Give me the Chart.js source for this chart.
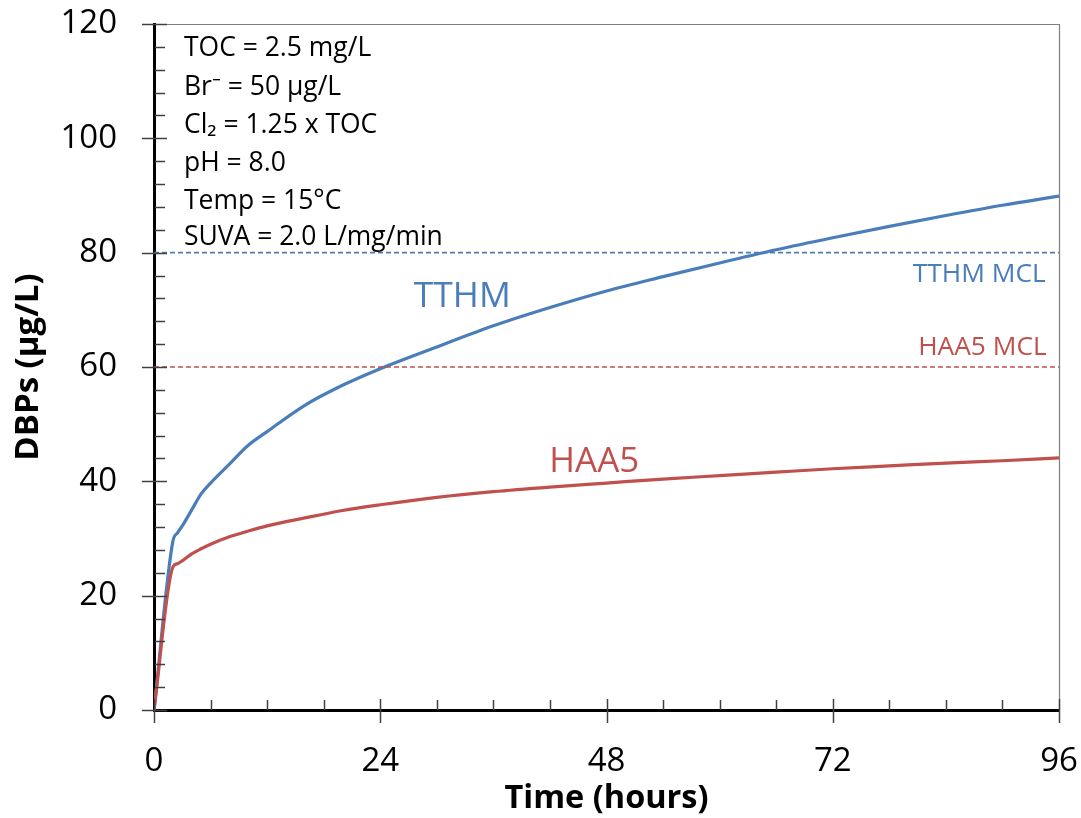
<!DOCTYPE html>
<html><head><meta charset="utf-8">
<script src="https://cdn.jsdelivr.net/npm/chart.js@4.4.1/dist/chart.umd.min.js"></script>
<style>html,body{margin:0;padding:0;background:#fff}#wrap{width:1081px;height:818px}</style>
</head><body><div id="wrap"><canvas id="c" width="1081" height="818"></canvas></div>
<script>
const timeHours = [0,2,2.5,3,4,5,6,8,10,12,16,20,24,30,36,42,48,54,60,66,72,78,84,90,96];
const tthmValues = [0,29.5,31,32.2,35,37.8,39.7,43,46.3,48.7,53.3,56.8,59.7,63.5,67.2,70.4,73.3,75.8,78.2,80.5,82.6,84.6,86.5,88.3,89.9];
const haa5Values = [0,25,25.6,26.1,27.3,28.2,29,30.3,31.3,32.2,33.6,34.9,35.9,37.2,38.2,39,39.7,40.4,41,41.6,42.2,42.7,43.2,43.6,44.1];
const mclTimes = [0,96];
const tthmMcl = [80,80];
const haa5Mcl = [60,60];
const xTicks = [0,24,48,72,96];
const yTicks = [0,20,40,60,80,100,120];
const infoLines = ["TOC = 2.5 mg/L","Br\u207B = 50 \u00B5g/L","Cl\u2082 = 1.25 x TOC","pH = 8.0","Temp = 15\u00B0C","SUVA = 2.0 L/mg/min"];

const BLUE = '#4a7ebb', RED = '#c0504d';
const FONT = "'Open Sans', 'Noto Sans', sans-serif";
const pts = (xs, ys) => xs.map((x,i)=>({x, y: ys[i]}));

const tickPlugin = {
  id: 'ticks',
  afterDraw(chart) {
    const ctx = chart.ctx, xs = chart.scales.x, ys = chart.scales.y, a = chart.chartArea;
    ctx.save();
    ctx.strokeStyle = '#7f7f7f'; ctx.lineWidth = 1.2;
    ctx.beginPath(); ctx.moveTo(a.left, a.top+0.5); ctx.lineTo(a.right+0.5, a.top+0.5); ctx.lineTo(a.right+0.5, a.bottom); ctx.stroke();
    ctx.strokeStyle = '#404040'; ctx.lineWidth = 1.5;
    for (let v = 0; v <= 120; v += 4) {
      const y = Math.round(ys.getPixelForValue(v)) + 0.5;
      ctx.beginPath();
      if (v % 20 === 0) { ctx.moveTo(a.left-12, y); ctx.lineTo(a.left+13, y); }
      else { ctx.moveTo(a.left+1, y); ctx.lineTo(a.left+11, y); }
      ctx.stroke();
    }
    for (let t = 0; t <= 96; t += 6) {
      const x = Math.round(xs.getPixelForValue(t)) + 0.5;
      ctx.beginPath();
      if (t % 24 === 0) { ctx.moveTo(x, a.bottom-11); ctx.lineTo(x, a.bottom+13); }
      else { ctx.moveTo(x, a.bottom-10); ctx.lineTo(x, a.bottom); }
      ctx.stroke();
    }
    ctx.restore();
  }
};

function fitSize(ctx, text, width, weight) {
  ctx.font = weight + ' 100px ' + FONT;
  return 100 * width / ctx.measureText(text).width;
}

const labelPlugin = {
  id: 'labels',
  afterDatasetsDraw(chart) {
    const ctx = chart.ctx, xs = chart.scales.x, ys = chart.scales.y;
    ctx.save();
    ctx.textBaseline = 'middle';
    const s = fitSize(ctx, infoLines[5], 259, '400');
    ctx.font = '400 ' + s + 'px ' + FONT;
    ctx.fillStyle = '#000'; ctx.textAlign = 'left';
    const infoY = [48,87,125,163,201,237];
    infoLines.forEach((t,i)=> ctx.fillText(t, 184, infoY[i]));
    let f = fitSize(ctx, 'TTHM', 97, '400');
    ctx.font = '400 ' + f + 'px ' + FONT; ctx.textAlign = 'center';
    ctx.fillStyle = BLUE; ctx.fillText('TTHM', xs.getPixelForValue(32.7), ys.getPixelForValue(72.2));
    f = fitSize(ctx, 'HAA5', 90, '400');
    ctx.font = '400 ' + f + 'px ' + FONT;
    ctx.fillStyle = RED; ctx.fillText('HAA5', xs.getPixelForValue(46.7), ys.getPixelForValue(43.3));
    f = fitSize(ctx, 'TTHM MCL', 133, '400');
    ctx.font = '400 ' + f + 'px ' + FONT; ctx.textAlign = 'right';
    ctx.fillStyle = BLUE; ctx.fillText('TTHM MCL', xs.getPixelForValue(94.6), ys.getPixelForValue(76.2));
    ctx.fillStyle = RED; ctx.fillText('HAA5 MCL', xs.getPixelForValue(94.7), ys.getPixelForValue(63.4));
    ctx.restore();
  }
};

new Chart(document.getElementById('c'), {
  type: 'line',
  data: { datasets: [
    { data: pts(mclTimes, tthmMcl), borderColor: BLUE, borderWidth: 1.6, borderDash: [5,3], pointRadius: 0, tension: 0 },
    { data: pts(mclTimes, haa5Mcl), borderColor: RED, borderWidth: 1.6, borderDash: [5,3], pointRadius: 0, tension: 0 },
    { data: pts(timeHours, haa5Values), borderColor: RED, borderWidth: 3.2, pointRadius: 0, cubicInterpolationMode: 'monotone' },
    { data: pts(timeHours, tthmValues), borderColor: BLUE, borderWidth: 3.2, pointRadius: 0, cubicInterpolationMode: 'monotone' }
  ]},
  options: {
    responsive: false, animation: false,
    layout: { padding: { top: 24, right: 22, left: 0, bottom: 0 } },
    plugins: { legend: { display: false }, tooltip: { enabled: false } },
    scales: {
      x: {
        type: 'linear', min: 0, max: 96,
        afterFit(s) { s.height = 108; s.paddingLeft = 0; s.paddingRight = 0; },
        afterBuildTicks(s) { s.ticks = xTicks.map(v=>({value:v})); },
        grid: { display: false, drawTicks: false },
        border: { display: true, color: '#000', width: 3 },
        ticks: { padding: 32, color: '#000', font: { family: FONT, size: 33 }, maxRotation: 0 },
        title: { display: true, text: 'Time (hours)', color: '#000', font: { family: FONT, size: 32.5, weight: 'bold' }, padding: { top: 0, bottom: 0 } }
      },
      y: {
        min: 0, max: 120,
        afterFit(s) { s.width = 154; s.paddingTop = 0; s.paddingBottom = 0; },
        afterBuildTicks(s) { s.ticks = yTicks.map(v=>({value:v})); },
        grid: { display: false, drawTicks: false },
        border: { display: true, color: '#000', width: 3 },
        ticks: { padding: 37, color: '#000', font: { family: FONT, size: 33 } },
        title: { display: true, text: 'DBPs (\u00B5g/L)', color: '#000', font: { family: FONT, size: 33, weight: 'bold' }, padding: { top: 9, bottom: 0 } }
      }
    }
  },
  plugins: [tickPlugin, labelPlugin]
});
</script></body></html>
